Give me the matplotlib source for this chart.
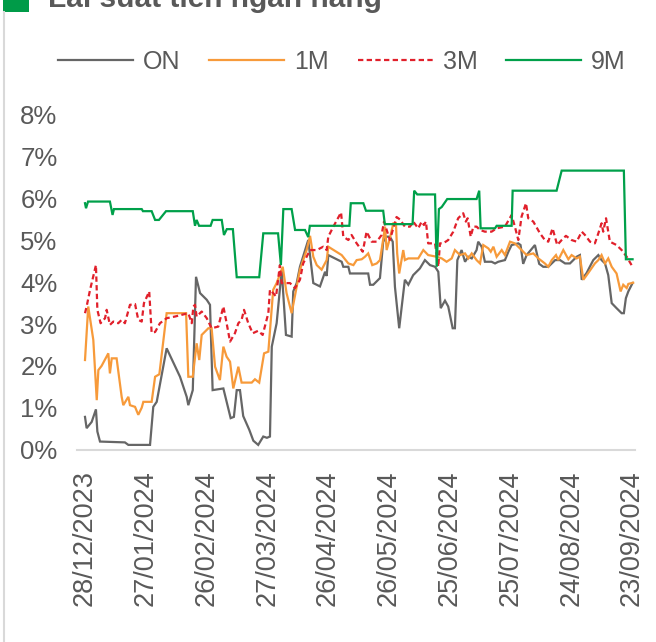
import matplotlib
matplotlib.use("Agg")
import matplotlib.pyplot as plt
import matplotlib.dates as mdates
from matplotlib.ticker import FuncFormatter
import pandas as pd

START = "2023-12-28"

# ---- data (day offset from START, rate in %) ----
on_days = [0, 0.8, 3.3, 5.4, 6.1, 7.4, 19.7, 21.4, 32.1, 33.7, 35.4, 40.3, 46.9, 50.2, 51, 53.2,
           54.8, 56.8, 60.1, 61.7, 63, 68.3, 71.9, 73.5, 74.9, 76.5, 78.1, 81.1, 83.1, 85.5, 88,
           89.8, 91.3, 92.2, 94.6, 97.1, 99.2, 102, 102.8, 104.5, 106.1, 110.2, 112.7, 116, 118.5,
           119.3, 120.1, 126.7, 127.5, 130, 130.8, 139.8, 140.7, 142.3, 145.6, 147.2, 148.9, 150.5,
           151.9, 153, 155.1, 157.9, 159.6, 162, 165.3, 167.8, 170.3, 172.8, 174.4, 175.6, 177.7,
           179.3, 181.5, 182.6, 183.8, 185.9, 187.6, 189.2, 190.9, 193.3, 194.1, 195.8, 197.4,
           200.7, 202.4, 204, 207.3, 209, 210.6, 213.9, 215, 216.3, 218, 222.1, 224.2, 226.2,
           228.7, 232.1, 234.5, 237, 239.4, 242.7, 244.3, 245.2, 247.6, 250.9, 253.4, 255, 256.7,
           258.3, 260, 262.4, 264.9, 266, 267, 268.2, 270.3]
on_vals = [0.78, 0.51, 0.66, 0.96, 0.43, 0.19, 0.17, 0.11, 0.11, 1.02, 1.14, 2.42, 1.74, 1.26, 1.06, 1.42,
           4.13, 3.74, 3.58, 3.46, 1.42, 1.46, 0.75, 0.78, 1.42, 1.42, 0.80, 0.47, 0.21, 0.11, 0.31,
           0.28, 0.31, 2.46, 3.02, 4.29, 2.74, 2.70, 3.78, 3.98, 4.37, 5.01, 3.98, 3.90, 4.25,
           4.15, 4.65, 4.49, 4.37, 4.37, 4.21, 4.21, 3.94, 3.94, 4.10, 4.97, 5.09, 5.09,
           4.97, 3.89, 2.90, 4.06, 3.94, 4.17, 4.33, 4.53, 4.41, 4.37, 4.25, 3.38, 3.56,
           3.42, 2.90, 2.90, 4.53, 4.77, 4.49, 4.61, 4.57, 4.77, 4.97, 4.85, 4.49,
           4.49, 4.45, 4.49, 4.53, 4.73, 4.89, 4.93, 4.89, 4.44, 4.65, 4.89, 4.44, 4.37,
           4.37, 4.53, 4.53, 4.45, 4.45, 4.61, 4.65, 4.06, 4.22, 4.53, 4.65, 4.53, 4.45,
           4.17, 3.50, 3.38, 3.26, 3.26, 3.62, 3.78, 3.98]

m1_days = [0, 1.6, 4.1, 5.8, 6.6, 8.2, 11.5, 12.3, 13.2, 15.6, 18.1, 18.9, 21.4, 22.2, 24.7, 26.3,
           28, 28.8, 32.9, 34.6, 36.7, 40.3, 49.9, 51, 53.2, 55.1, 56.4, 57.6, 60.9, 62.5, 64.2,
           66.6, 68.3, 69.9, 71.6, 73.2, 75.7, 77.3, 82.3, 83.9, 86, 88.4, 90.5, 92.9, 94.6, 97.6,
           99.5, 102, 104.5, 106.1, 109.4, 111.1, 112.7, 114.4, 116.8, 119.3, 120.1, 126.7, 130,
           132.5, 134.1, 136.6, 138.2, 139.8, 141.8, 144, 145.6, 146.9, 148.1, 148.9, 150.5, 152.2,
           153.5, 154.1, 155.1, 157.1, 157.9, 159.6, 162, 164.5, 167, 169.4, 173.6, 176.1, 178.5,
           181, 182.6, 185.1, 187.6, 189.2, 190.9, 193.3, 195, 196.6, 199.1, 200.3, 201.6, 203.2,
           205.7, 207.3, 209.8, 212.2, 214.7, 218, 221.3, 223.8, 227, 228.7, 230.4, 232.5, 233.6,
           236.1, 238.6, 240.2, 242.7, 244.3, 246, 248.4, 251.7, 253.4, 255, 256.7, 258.3, 260,
           262.4, 264.4, 265.7, 267.4, 268.2, 270.6]
m1_vals = [2.14, 3.42, 2.62, 1.18, 1.90, 2.00, 2.30, 1.82, 2.18, 2.18, 1.26, 1.06, 1.26, 1.06, 1.02, 0.83,
           1.00, 1.14, 1.14, 1.74, 1.80, 3.26, 3.26, 1.74, 1.74, 2.54, 2.14, 2.74, 2.90, 2.90, 1.98,
           1.66, 2.46, 2.22, 2.10, 1.46, 1.98, 1.60, 1.60, 1.68, 1.60, 2.30, 2.34, 3.82, 3.98, 4.37,
           3.74, 3.26, 3.90, 4.30, 4.77, 5.11, 4.61, 4.41, 4.30, 4.53, 4.85, 4.65, 4.45,
           4.41, 4.53, 4.55, 4.61, 4.69, 4.41, 4.45, 4.53, 4.93, 5.33, 4.77, 5.05, 5.41,
           5.41, 4.69, 4.21, 4.77, 4.53, 4.57, 4.57, 4.57, 4.77, 4.65, 4.61, 4.57, 4.49,
           4.57, 4.77, 4.65, 4.69, 4.57, 4.69, 4.53, 4.45, 4.89, 4.81, 4.73, 4.85, 4.61,
           4.77, 4.65, 4.97, 4.93, 4.81, 4.65, 4.69, 4.57, 4.45, 4.37, 4.53, 4.65, 4.53,
           4.77, 4.55, 4.65, 4.57, 4.61, 4.06, 4.22, 4.45, 4.53, 4.65, 4.45, 4.57, 4.37,
           4.21, 3.78, 3.94, 3.86, 3.96, 3.99]

m3_days = [0, 0.8, 2.5, 5.4, 6.1, 7.7, 9.9, 10.7, 12.3, 14, 16.4, 18.1, 19.7, 22.2, 24.7, 26.3, 28,
           29.1, 31.7, 32.9, 34.6, 37, 40.3, 44.4, 51, 52.7, 53.5, 54.3, 55.1, 57.6, 60.1, 62.5,
           65.8, 68.3, 69.6, 71.6, 74, 75.7, 77.3, 78.5, 80.6, 82.8, 85.5, 87.7, 90.5, 91.3, 92.9,
           94.3, 96.2, 97.1, 101.2, 103.7, 106.1, 107.7, 111.1, 114.4, 117.6, 119.3, 120.1, 122.6,
           126.4, 127.5, 130, 131.6, 134.1, 137.1, 139, 141.5, 144, 146.4, 147.6, 150.5, 153.8,
           155.5, 157.9, 160.4, 162, 164.5, 166.2, 167.3, 168.3, 169.4, 172.8, 174.4, 175.2, 176.8,
           179.3, 181.8, 184.2, 186.7, 188, 188.9, 190.4, 191.7, 193.3, 195, 197.4, 200.7, 203.2,
           207.3, 210.6, 212.2, 213.9, 215.5, 217.7, 218.8, 221.3, 224.6, 227, 228.7, 230.8, 233.1,
           235.3, 237.4, 240.2, 242.7, 245.2, 246.8, 249.3, 251.7, 253.4, 255, 255.8, 257.2, 259.1,
           262.4, 264.9, 267.4, 269.8]
m3_vals = [3.26, 3.42, 3.82, 4.41, 3.34, 3.02, 3.14, 3.34, 2.98, 3.06, 3.02, 3.10, 3.02, 3.46, 3.48, 3.10, 3.06,
           3.50, 3.78, 2.79, 2.81, 3.02, 3.14, 3.18, 3.26, 3.02, 3.42, 3.46, 3.18, 3.30, 3.14, 2.90,
           2.94, 3.42, 3.10, 2.58, 2.78, 3.02, 3.10, 3.34, 3.02, 2.78, 2.84, 2.74, 3.26, 3.82, 3.74,
           3.66, 4.41, 3.98, 3.98, 3.86, 4.06, 4.45, 4.77, 4.77, 4.85, 4.77, 5.09, 5.33,
           5.67, 5.09, 5.01, 5.13, 4.93, 4.73, 5.21, 4.97, 4.97, 5.13, 5.45, 5.01, 5.56,
           5.50, 5.33, 5.33, 5.45, 5.29, 5.45, 5.37, 5.45, 4.93, 4.93, 4.37, 4.93, 4.93,
           5.01, 5.21, 5.53, 5.65, 5.45, 5.53, 5.09, 5.33, 5.33, 5.25, 5.21, 5.21, 5.29,
           5.33, 5.61, 5.33, 5.01, 5.57, 5.89, 5.53, 5.45, 5.17, 5.01, 4.97, 5.29, 4.89,
           5.01, 5.11, 5.01, 4.97, 5.21, 5.13, 4.97, 4.93, 5.17, 5.41, 5.21, 5.53, 4.97,
           4.89, 4.77, 4.61, 4.41]

m9_days = [0, 0.5, 1.5, 12.3, 13.6, 14.3, 28, 28.6, 32.9, 34.6, 36.5, 40, 53.2, 54.3, 55.1, 56.3, 62,
           63, 67.5, 68.6, 70, 73, 74.9, 86, 88, 95.3, 96.7, 97.9, 102, 103.7, 108.6, 110.2, 111,
           130.5, 131.2, 137.4, 138.7, 147.2, 148, 161.7, 162.5, 164, 172.8, 173.6, 174.7, 176.1,
           178.8, 193.3, 194.6, 195.3, 202.4, 203.2, 210.6, 211.1, 232.8, 235.3, 266, 267, 270.3]
m9_vals = [5.89, 5.77, 5.93, 5.93, 5.61, 5.75, 5.75, 5.70, 5.70, 5.49, 5.49, 5.70, 5.70, 5.35, 5.49, 5.35, 5.35,
           5.49, 5.49, 5.13, 5.27, 5.27, 4.12, 4.12, 5.17, 5.17, 4.41, 5.75, 5.75, 5.25, 5.25, 5.08, 5.35,
           5.35, 5.89, 5.89, 5.71, 5.71, 5.39, 5.39, 6.19, 6.10, 6.10, 4.37, 5.75, 5.80,
           5.99, 5.99, 6.19, 5.29, 5.29, 5.35, 5.35, 6.19, 6.19, 6.67, 6.67, 4.55, 4.55]

series_names = ["ON", "1M", "3M", "9M"]
y_ticks = [0, 1, 2, 3, 4, 5, 6, 7, 8]
title = "Lãi suất tiền ngân hàng"

# ---- style ----
W, H = 656, 642
DPI = 100
TXT = "#595959"
colors = ["#666666", "#F79A3A", "#E1202B", "#00A04A"]
styles = ["-", "-", (0, (2.4, 1.5)), "-"]
plt.rcParams["font.family"] = ["Liberation Sans", "DejaVu Sans"]

fig = plt.figure(figsize=(W / DPI, H / DPI), dpi=DPI)
fig.patch.set_facecolor("white")

ax_l, ax_r, ax_b, ax_t = 77, 635, 449.5, 115
ax = fig.add_axes([ax_l / W, (H - ax_b) / H, (ax_r - ax_l) / W, (ax_b - ax_t) / H])

start = pd.Timestamp(START)
def to_dates(days):
    return start + pd.to_timedelta(days, unit="D")

all_days = [on_days, m1_days, m3_days, m9_days]
all_vals = [on_vals, m1_vals, m3_vals, m9_vals]
for name, d, v, c, ls in zip(series_names, all_days, all_vals, colors, styles):
    ax.plot(to_dates(d), v, color=c, lw=1.6, ls=ls, label=name, solid_joinstyle="miter")

ax.set_ylim(0, 8)
ax.set_yticks(y_ticks)
ax.yaxis.set_major_formatter(FuncFormatter(lambda v, p: f"{int(v)}%"))
ticks = pd.date_range(START, periods=10, freq="30D")
ax.set_xticks(ticks)
ax.xaxis.set_major_formatter(mdates.DateFormatter("%d/%m/%Y"))
ax.set_xlim(start - pd.Timedelta(days=3.95), start + pd.Timedelta(days=271.5))

for s in ["top", "right", "left"]:
    ax.spines[s].set_visible(False)
ax.spines["bottom"].set_color("#D9D9D9")
ax.spines["bottom"].set_linewidth(1.5)
ax.tick_params(axis="y", length=0, pad=14, labelsize=18.5, labelcolor=TXT)
ax.tick_params(axis="x", length=0, pad=15, labelsize=19.5, labelcolor=TXT, labelrotation=90)
for lab in ax.get_xticklabels():
    lab.set_ha("center")

# legend
fig.legend(loc="center left", bbox_to_anchor=(58 / W, 1 - 62 / H), ncol=4, frameon=False,
           fontsize=18, labelcolor=TXT, handlelength=3.0, handletextpad=0.4,
           columnspacing=1.15, borderpad=0, borderaxespad=0)

# title decorations
fig.patches.append(plt.Rectangle((2.7 / W, 1 - 11.7 / H), 26.6 / W, 11.7 / H, transform=fig.transFigure,
                                 facecolor="#009B48", edgecolor="none"))
fig.add_artist(plt.Line2D([3.5 / W, 3.5 / W], [0, 1 - 11.7 / H], transform=fig.transFigure,
                          color="#D9D9D9", lw=1.5))
fig.text(48 / W, 1 - 7 / H, title, fontsize=21.5, fontweight="bold", color=TXT,
         ha="left", va="baseline")

fig.savefig("out.png", dpi=DPI, facecolor="white")
